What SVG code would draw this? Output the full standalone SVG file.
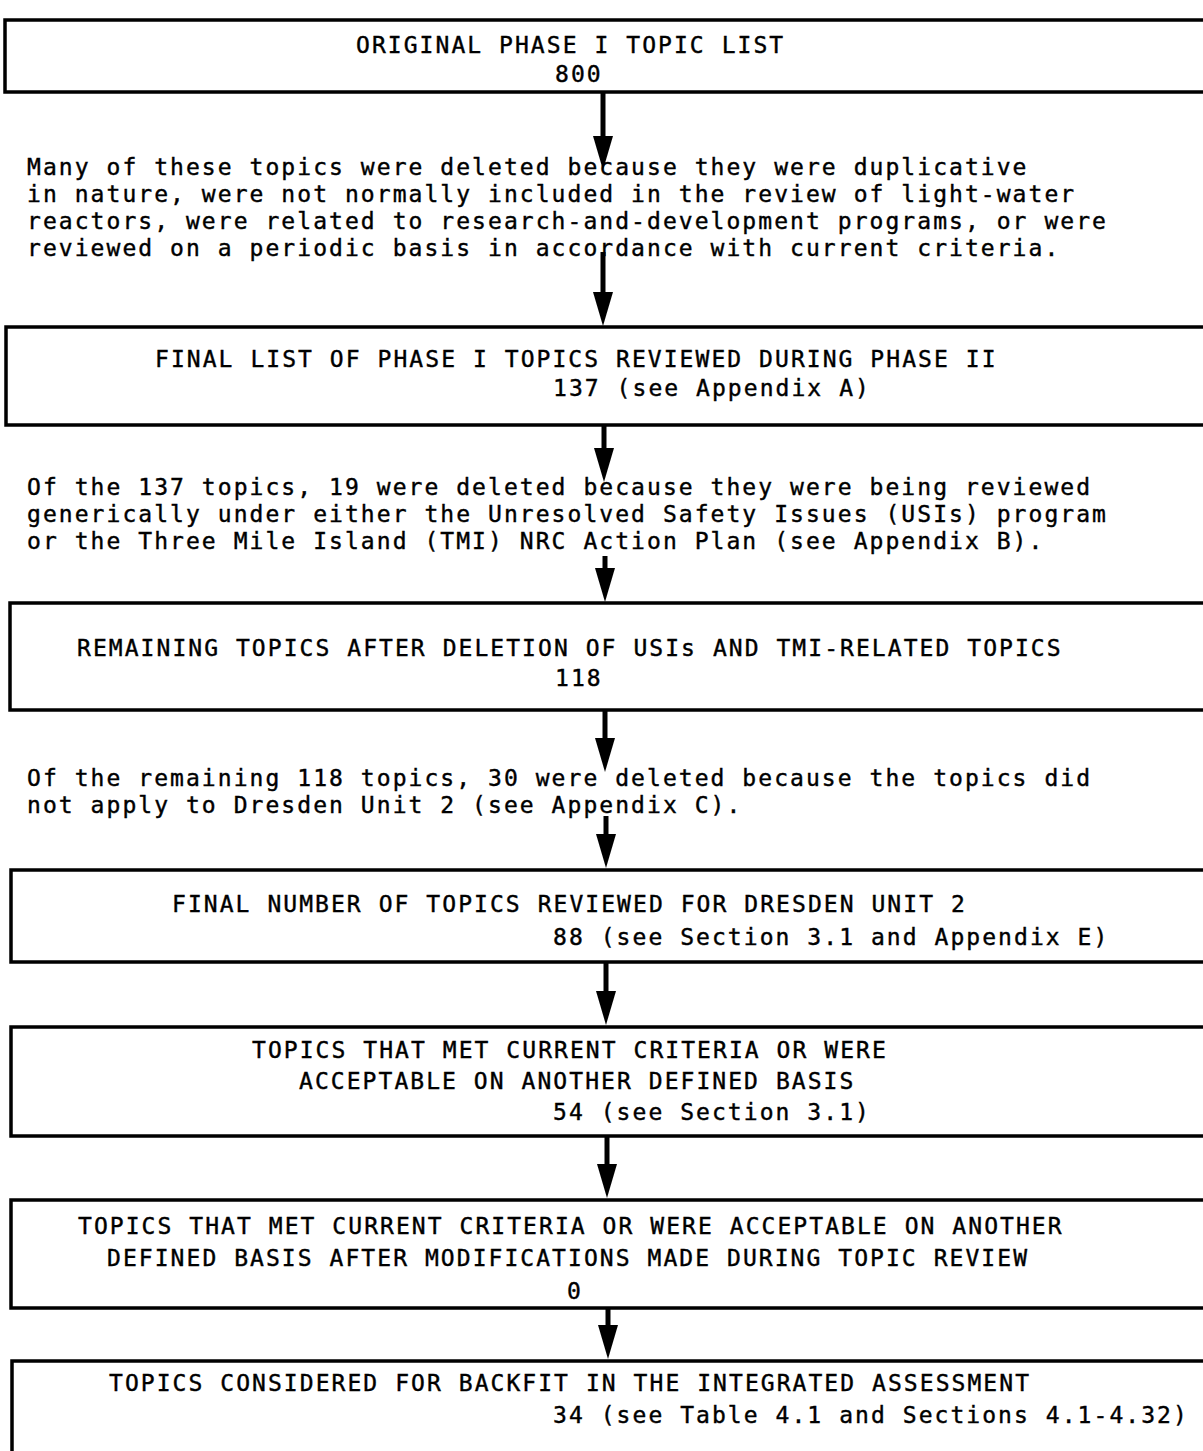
<svg xmlns="http://www.w3.org/2000/svg" width="1203" height="1451" viewBox="0 0 1203 1451">
<style>
.box{fill:#fff;stroke:#000;stroke-width:3.5}
.t{font-family:"DejaVu Sans Mono","Liberation Mono",monospace;font-size:23px;letter-spacing:2.05px;fill:#000;stroke:#000;stroke-width:0.4}
.c{stroke:#000;stroke-width:5;fill:none}
</style>
<defs>
<marker id="ah" markerUnits="userSpaceOnUse" markerWidth="34" markerHeight="22" refX="22" refY="11" orient="auto">
<path d="M0,1 L34,11 L0,21 z" fill="#000"/>
</marker>
</defs>
<rect width="1203" height="1451" fill="#fff"/>
<g id="connectors">
<line class="c" x1="603" y1="92" x2="603" y2="158" marker-end="url(#ah)"/>
<line class="c" x1="603" y1="252" x2="603" y2="314" marker-end="url(#ah)"/>
<line class="c" x1="604" y1="425" x2="604" y2="470" marker-end="url(#ah)"/>
<line class="c" x1="605" y1="556" x2="605" y2="590" marker-end="url(#ah)"/>
<line class="c" x1="605" y1="710" x2="605" y2="760" marker-end="url(#ah)"/>
<line class="c" x1="606" y1="816" x2="606" y2="856" marker-end="url(#ah)"/>
<line class="c" x1="606" y1="962" x2="606" y2="1013" marker-end="url(#ah)"/>
<line class="c" x1="607" y1="1136" x2="607" y2="1186" marker-end="url(#ah)"/>
<line class="c" x1="608" y1="1308" x2="608" y2="1347" marker-end="url(#ah)"/>
</g>
<g id="n1">
<rect class="box" x="5" y="20" width="1210" height="72"/>
<text class="t" x="356" y="53">ORIGINAL PHASE I TOPIC LIST</text>
<text class="t" x="555" y="82">800</text>
</g>
<g id="note1">
<text class="t" x="27" y="175">Many of these topics were deleted because they were duplicative</text>
<text class="t" x="27" y="202">in nature, were not normally included in the review of light-water</text>
<text class="t" x="27" y="229">reactors, were related to research-and-development programs, or were</text>
<text class="t" x="27" y="256">reviewed on a periodic basis in accordance with current criteria.</text>
</g>
<g id="n2">
<rect class="box" x="6" y="327" width="1210" height="98"/>
<text class="t" x="155" y="367">FINAL LIST OF PHASE I TOPICS REVIEWED DURING PHASE II</text>
<text class="t" x="553" y="396">137 (see Appendix A)</text>
</g>
<g id="note2">
<text class="t" x="27" y="495">Of the 137 topics, 19 were deleted because they were being reviewed</text>
<text class="t" x="27" y="522">generically under either the Unresolved Safety Issues (USIs) program</text>
<text class="t" x="27" y="549">or the Three Mile Island (TMI) NRC Action Plan (see Appendix B).</text>
</g>
<g id="n3">
<rect class="box" x="10" y="603" width="1210" height="107"/>
<text class="t" x="77" y="656">REMAINING TOPICS AFTER DELETION OF USIs AND TMI-RELATED TOPICS</text>
<text class="t" x="555" y="686">118</text>
</g>
<g id="note3">
<text class="t" x="27" y="786">Of the remaining 118 topics, 30 were deleted because the topics did</text>
<text class="t" x="27" y="813">not apply to Dresden Unit 2 (see Appendix C).</text>
</g>
<g id="n4">
<rect class="box" x="11" y="870" width="1210" height="92"/>
<text class="t" x="172" y="912">FINAL NUMBER OF TOPICS REVIEWED FOR DRESDEN UNIT 2</text>
<text class="t" x="553" y="945">88 (see Section 3.1 and Appendix E)</text>
</g>
<g id="n5">
<rect class="box" x="11" y="1027" width="1210" height="109"/>
<text class="t" x="252" y="1058">TOPICS THAT MET CURRENT CRITERIA OR WERE</text>
<text class="t" x="299" y="1089">ACCEPTABLE ON ANOTHER DEFINED BASIS</text>
<text class="t" x="553" y="1120">54 (see Section 3.1)</text>
</g>
<g id="n6">
<rect class="box" x="11" y="1200" width="1210" height="108"/>
<text class="t" x="78" y="1234">TOPICS THAT MET CURRENT CRITERIA OR WERE ACCEPTABLE ON ANOTHER</text>
<text class="t" x="107" y="1266">DEFINED BASIS AFTER MODIFICATIONS MADE DURING TOPIC REVIEW</text>
<text class="t" x="567" y="1299">0</text>
</g>
<g id="n7">
<rect class="box" x="12" y="1361" width="1210" height="120"/>
<text class="t" x="109" y="1391">TOPICS CONSIDERED FOR BACKFIT IN THE INTEGRATED ASSESSMENT</text>
<text class="t" x="553" y="1423">34 (see Table 4.1 and Sections 4.1-4.32)</text>
</g>
</svg>
